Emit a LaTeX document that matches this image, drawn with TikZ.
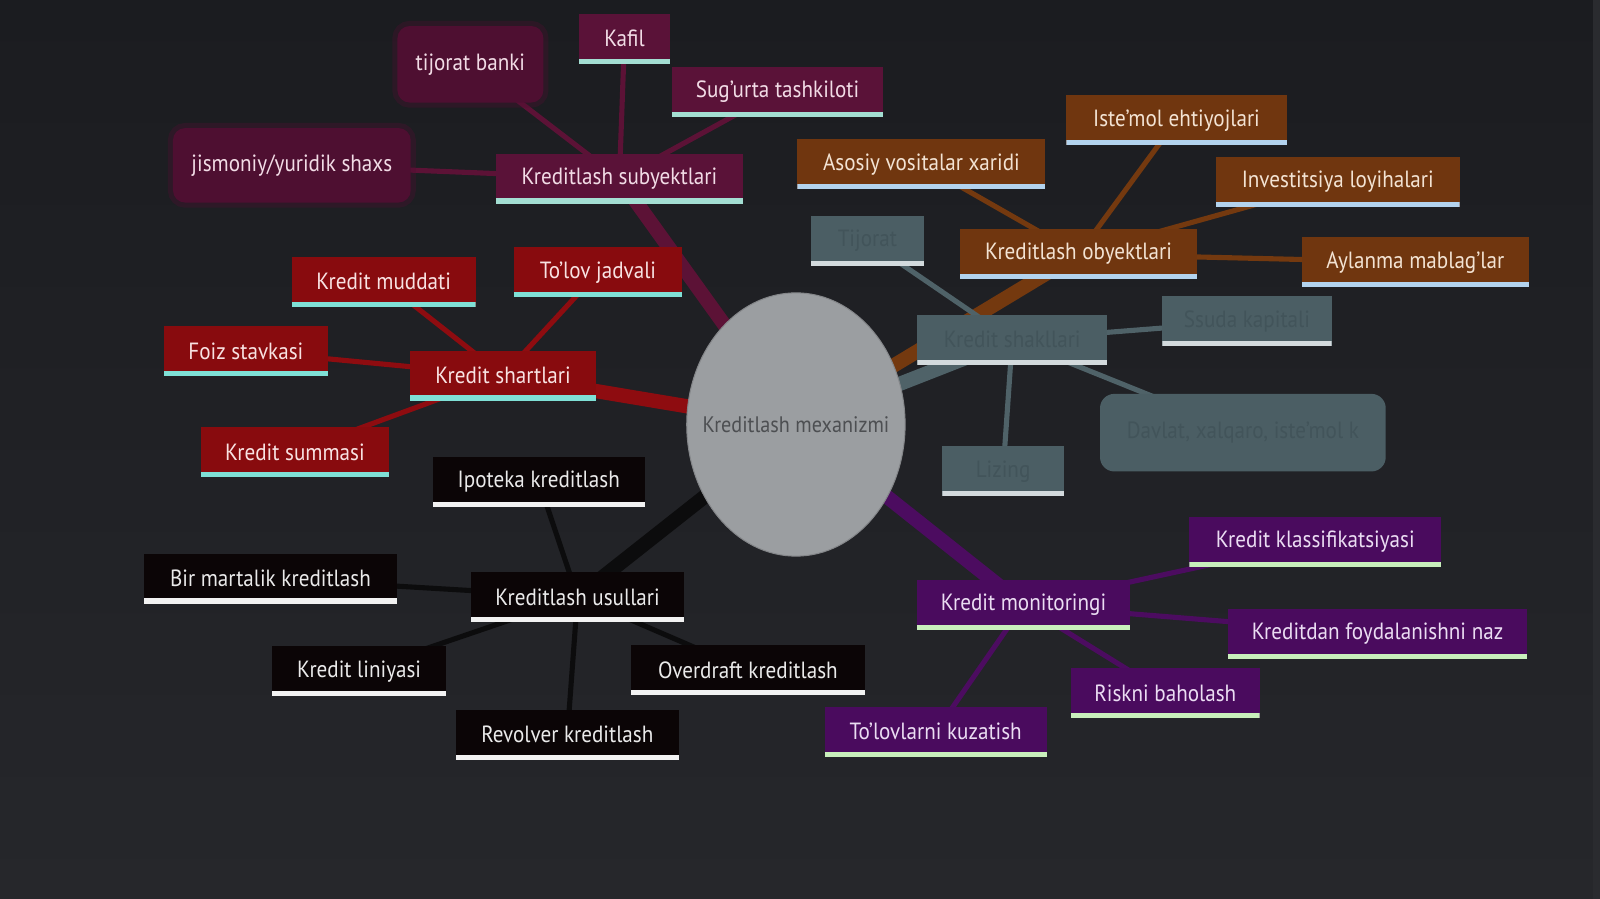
\documentclass[tikz,border=0pt]{standalone}
\usepackage{fontspec}
\setmainfont{PT Sans}[FakeStretch=0.9]
\usetikzlibrary{shapes.geometric}
\pgfdeclarelayer{back}
\pgfdeclarelayer{bg}
\pgfsetlayers{back,bg,main}
\definecolor{bgtop}{HTML}{1B1C20}
\definecolor{bgbot}{HTML}{26272B}
\definecolor{marfill}{HTML}{5A1238}
\definecolor{marsoft}{HTML}{4E0F31}
\definecolor{marline}{HTML}{5C1236}
\definecolor{martext}{HTML}{F2DCE6}
\definecolor{redfill}{HTML}{880B0E}
\definecolor{redline}{HTML}{8E0C10}
\definecolor{redtext}{HTML}{F8E2E2}
\definecolor{blkfill}{HTML}{0B0506}
\definecolor{blkline}{HTML}{0C0C0D}
\definecolor{blktext}{HTML}{EAEAEA}
\definecolor{purfill}{HTML}{4A0B5E}
\definecolor{purline}{HTML}{4C0C60}
\definecolor{purtext}{HTML}{EBDDF3}
\definecolor{orafill}{HTML}{70360F}
\definecolor{oraline}{HTML}{74390F}
\definecolor{oratext}{HTML}{F3E3D3}
\definecolor{gryfill}{HTML}{4B5E64}
\definecolor{gryline}{HTML}{4F6268}
\definecolor{grytext}{HTML}{42545A}
\definecolor{ulteal}{HTML}{A3DED2}
\definecolor{ulcyan}{HTML}{7FE0D6}
\definecolor{ulwhite}{HTML}{F2F2F2}
\definecolor{ulgreen}{HTML}{C9EFBC}
\definecolor{ulblue}{HTML}{B3D3EE}
\definecolor{ulgray}{HTML}{D3DADD}
\definecolor{ellfill}{HTML}{9B9EA1}
\definecolor{elltext}{HTML}{4D4F52}
\definecolor{edge}{HTML}{2A2B2F}
\begin{document}
\begin{tikzpicture}[x=1pt,y=-1pt,
  box/.style={rectangle, minimum height=49pt, inner sep=0pt,
    font=\fontsize{23}{25}\selectfont,
    path picture={\fill[#1] ([yshift=5pt]path picture bounding box.south west) rectangle (path picture bounding box.south east);}},
  marbox/.style={box=ulteal, fill=marfill, text=martext},
  marround/.style={rectangle, rounded corners=12pt, fill=marsoft, text=martext, inner sep=0pt,
    font=\fontsize{23}{25}\selectfont,
    preaction={draw=marsoft, line width=10pt, opacity=0.35}},
  redbox/.style={box=ulcyan, fill=redfill, text=redtext},
  blkbox/.style={box=ulwhite, fill=blkfill, text=blktext},
  purbox/.style={box=ulgreen, fill=purfill, text=purtext},
  orabox/.style={box=ulblue, fill=orafill, text=oratext},
  grybox/.style={box=ulgray, fill=gryfill, text=grytext},
  gryround/.style={rectangle, rounded corners=14pt, fill=gryfill, text=grytext, inner sep=0pt,
    font=\fontsize{23}{25}\selectfont},
  hub/.style={line width=14pt},
  twig/.style={line width=5pt},
]
\useasboundingbox (0,0) rectangle (1568,881);
\begin{pgfonlayer}{back}
\shade[top color=bgtop, bottom color=bgbot] (0,0) rectangle (1568,881);
\fill[edge] (1561,0) rectangle (1568,881);
\end{pgfonlayer}

% centre
\node[ellipse, fill=ellfill, draw=ellfill!85!black, line width=1pt, minimum width=214pt, minimum height=258pt, inner sep=0pt] (c) at (780,416) {};
\node[text=elltext, font=\fontsize{22}{24}\selectfont] (ctext) at (c.center) {Kreditlash mexanizmi};

% hubs
\node[marbox, minimum width=242pt] (sub) at (607,175) {Kreditlash subyektlari};
\node[redbox, minimum width=183pt] (shart) at (493,368) {Kredit shartlari};
\node[blkbox, minimum width=209pt] (usul) at (566,585) {Kreditlash usullari};
\node[purbox, minimum width=209pt] (mon) at (1003,593) {Kredit monitoringi};
\node[orabox, minimum width=232pt] (obj) at (1057,249) {Kreditlash obyektlari};
\node[grybox, minimum width=186pt] (gc) at (992,333) {Kredit shakllari};

% subyektlari group
\node[marbox, minimum width=89pt] (kafil) at (612,38) {Kafil};
\node[marround, minimum width=143pt, minimum height=75pt] (bank) at (461,63) {tijorat banki};
\node[marbox, minimum width=207pt] (sug) at (762,90) {Sug'urta tashkiloti};
\node[marround, minimum width=233pt, minimum height=73pt] (jis) at (286,162) {jismoniy/yuridik shaxs};

% shartlari group
\node[redbox, minimum width=180pt] (mud) at (376,276) {Kredit muddati};
\node[redbox, minimum width=165pt] (jad) at (586,267) {To'lov jadvali};
\node[redbox, minimum width=161pt] (foiz) at (241,344) {Foiz stavkasi};
\node[redbox, minimum width=185pt] (sum) at (289,443) {Kredit summasi};

% usullari group
\node[blkbox, minimum width=208pt] (ipo) at (528,472) {Ipoteka kreditlash};
\node[blkbox, minimum width=248pt] (bir) at (265,567) {Bir martalik kreditlash};
\node[blkbox, minimum width=171pt] (lin) at (352,658) {Kredit liniyasi};
\node[blkbox, minimum width=229pt] (ovr) at (733,657) {Overdraft kreditlash};
\node[blkbox, minimum width=219pt] (rev) at (556,720) {Revolver kreditlash};

% monitoringi group
\node[purbox, minimum width=247pt] (kla) at (1289,531) {Kredit klassifikatsiyasi};
\node[purbox, minimum width=293pt] (foy) at (1350,621) {Kreditdan foydalanishni naz};
\node[purbox, minimum width=185pt] (risk) at (1142,679) {Riskni baholash};
\node[purbox, minimum width=218pt] (kuz) at (917,717) {To'lovlarni kuzatish};

% obyektlari group
\node[orabox, minimum width=216pt] (ist) at (1153,118) {Iste'mol ehtiyojlari};
\node[orabox, minimum width=243pt] (aso) at (903,161) {Asosiy vositalar xaridi};
\node[orabox, minimum width=239pt] (inv) at (1311,178) {Investitsiya loyihalari};
\node[orabox, minimum width=223pt] (ayl) at (1387,257) {Aylanma mablag'lar};

% grey group
\node[grybox, minimum width=111pt] (g1) at (850,236) {Tijorat};
\node[grybox, minimum width=166pt] (g2) at (1222,315) {Ssuda kapitali};
\node[grybox, minimum width=119pt] (g3) at (983,462) {Lizing};
\node[gryround, minimum width=280pt, minimum height=76pt] (g4) at (1218,424) {Davlat, xalqaro, iste'mol k};

\begin{pgfonlayer}{bg}
\begin{scope}[hub]
\draw[marline] (c.center) -- (sub.center);
\draw[redline] (c.center) -- (shart.center);
\draw[blkline] (c.center) -- (usul.center);
\draw[purline] (c.center) -- (mon.center);
\draw[oraline] (c.center) -- (obj.center);
\draw[gryline] (c.center) -- (gc.center);
\end{scope}
\begin{scope}[twig, marline]
\draw (sub.center) -- (kafil.center);
\draw (sub.center) -- (bank.center);
\draw (sub.center) -- (sug.center);
\draw (sub.center) -- (jis.center);
\end{scope}
\begin{scope}[twig, redline]
\draw (shart.center) -- (mud.center);
\draw (shart.center) -- (jad.center);
\draw (shart.center) -- (foiz.center);
\draw (shart.center) -- (sum.center);
\end{scope}
\begin{scope}[twig, blkline]
\draw (usul.center) -- (ipo.center);
\draw (usul.center) -- (bir.center);
\draw (usul.center) -- (lin.center);
\draw (usul.center) -- (ovr.center);
\draw (usul.center) -- (rev.center);
\end{scope}
\begin{scope}[twig, purline]
\draw (mon.center) -- (kla.center);
\draw (mon.center) -- (foy.center);
\draw (mon.center) -- (risk.center);
\draw (mon.center) -- (kuz.center);
\end{scope}
\begin{scope}[twig, oraline]
\draw (obj.center) -- (ist.center);
\draw (obj.center) -- (aso.center);
\draw (obj.center) -- (inv.center);
\draw (obj.center) -- (ayl.center);
\end{scope}
\begin{scope}[twig, gryline]
\draw (gc.center) -- (g1.center);
\draw (gc.center) -- (g2.center);
\draw (gc.center) -- (g3.center);
\draw (gc.center) -- (g4.center);
\end{scope}
\end{pgfonlayer}
\end{tikzpicture}
\end{document}
